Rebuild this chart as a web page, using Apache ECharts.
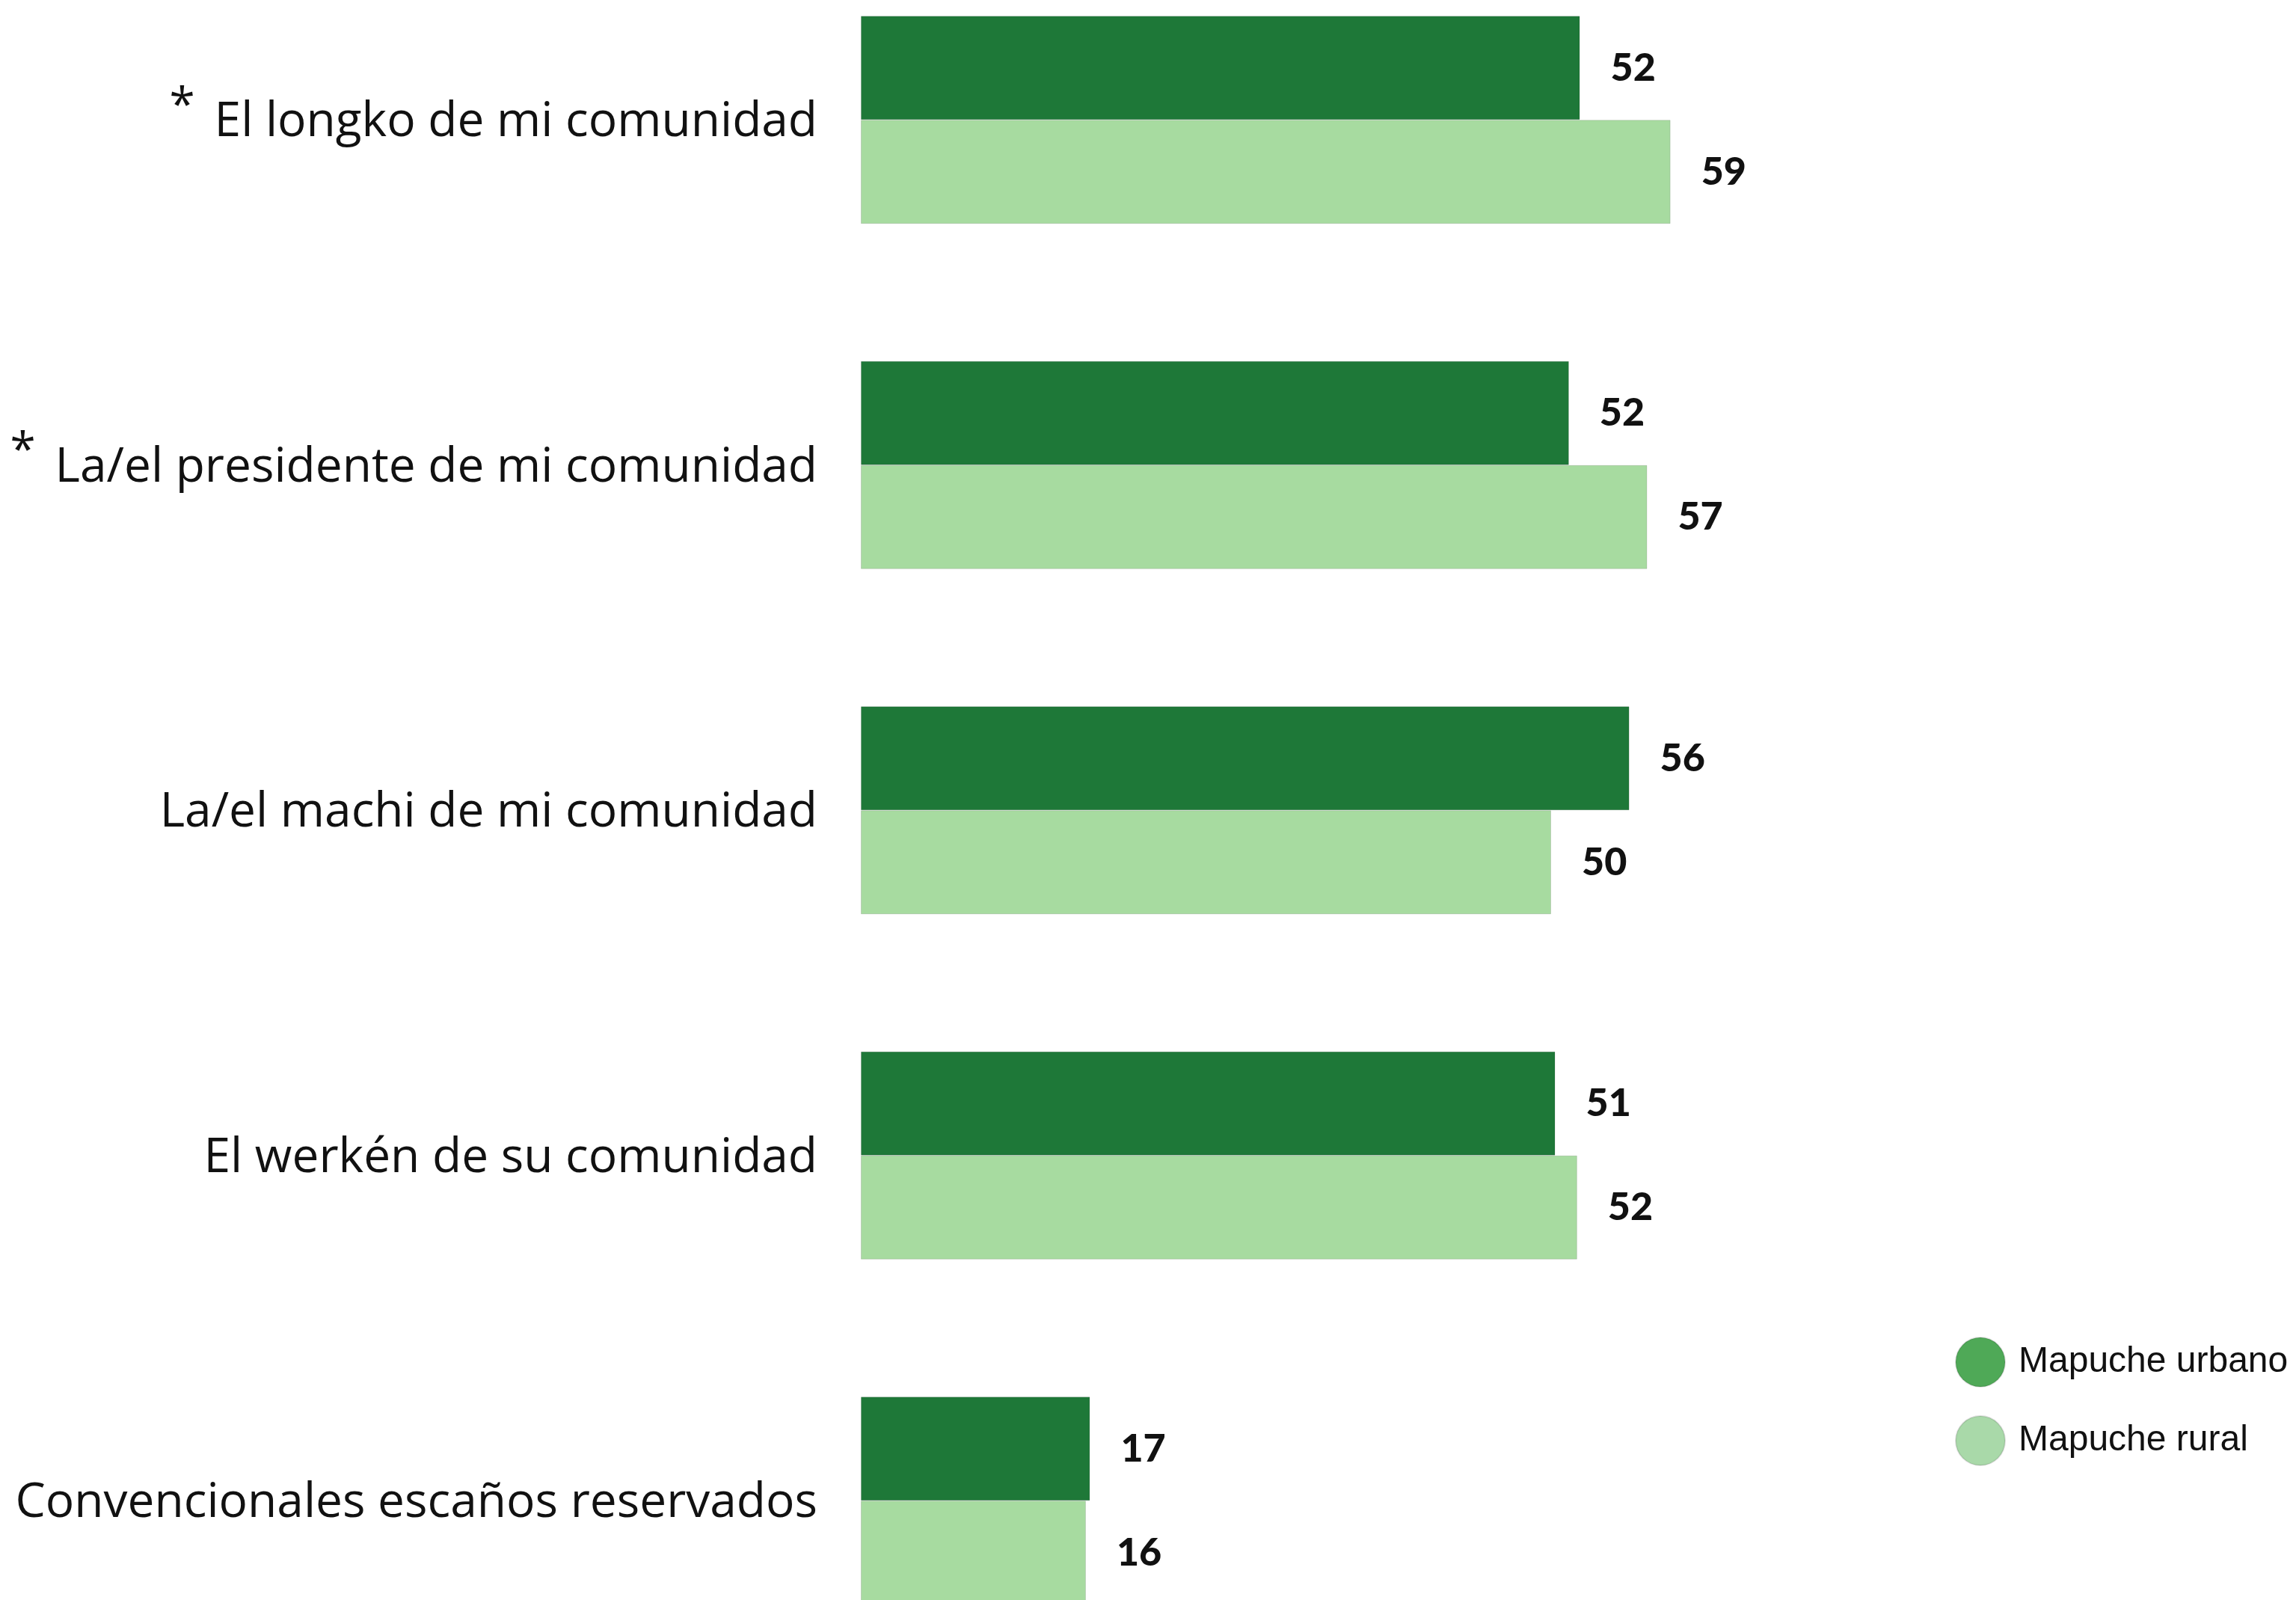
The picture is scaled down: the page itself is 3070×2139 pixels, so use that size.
<!DOCTYPE html>
<html>
<head>
<meta charset="utf-8">
<script src="https://cdn.jsdelivr.net/npm/echarts@6/dist/echarts.min.js"></script>
<style>
* {
    margin: 0;
    padding: 0;
}
body {
    background: #ffffff;
}
#chart {
    width: 3070px;
    height: 2139px;
}
</style>
</head>
<body>
<div id="chart"></div>
<script>
// categorias (de arriba hacia abajo)
const categories = [
    'El longko de mi comunidad',
    'La/el presidente de mi comunidad',
    'La/el machi de mi comunidad',
    'El werkén de su comunidad',
    'Convencionales escaños reservados'
];
// las que llevan asterisco
const starred = [true, true, false, false, false];

const seriesNames = ['Mapuche urbano', 'Mapuche rural'];
const urbano = [52.4, 51.6, 56.0, 50.6, 16.7];
const rural = [59.0, 57.3, 50.3, 52.2, 16.4];

const barColors = ['#1E7838', '#A7DBA0'];
const legendColors = ['#4FA957', '#A9D9A9'];

const chart = echarts.init(document.getElementById('chart'));

const labelStyle = {
    show: true,
    position: 'right',
    distance: 41,
    color: '#111111',
    fontFamily: 'Lato',
    fontWeight: 900,
    fontSize: 52,
    formatter: (p) => Math.round(p.value)
};

const option = {
    backgroundColor: '#ffffff',
    animation: false,
    legend: {
        orient: 'vertical',
        left: 2614,
        top: 1787,
        padding: 0,
        itemWidth: 66,
        itemHeight: 66,
        itemGap: 37,
        icon: 'circle',
        textStyle: {
            fontFamily: 'Liberation Sans',
            fontSize: 48,
            color: '#111111',
            padding: [0, 0, 0, 13]
        },
        data: seriesNames.map((n, i) => ({
            name: n,
            itemStyle: { color: legendColors[i] }
        }))
    },
    grid: {
        left: 1151,
        top: -70.5,
        width: 1835,
        height: 2307.5,
        outerBoundsMode: 'none'
    },
    xAxis: {
        type: 'value',
        min: 0,
        max: 100,
        show: false
    },
    yAxis: {
        type: 'category',
        inverse: true,
        data: categories,
        axisLine: { show: false },
        axisTick: { show: false },
        axisLabel: {
            margin: 58,
            formatter: (value, idx) => {
                if (starred[idx]) {
                    return '{ast|*}{t|' + value + '}';
                }
                return '{t|' + value + '}';
            },
            rich: {
                t: {
                    fontFamily: 'Open Sans',
                    fontSize: 64,
                    color: '#111111',
                    padding: [8, 0, 0, 0]
                },
                ast: {
                    fontFamily: 'Open Sans',
                    fontSize: 62,
                    color: '#111111',
                    padding: [0, 26, 34, 0]
                }
            }
        }
    },
    series: [
        {
            name: seriesNames[0],
            type: 'bar',
            data: urbano,
            barWidth: 139,
            barGap: '0%',
            itemStyle: {
                color: barColors[0],
                borderColor: 'rgba(0,0,0,0.12)',
                borderWidth: 1
            },
            label: labelStyle
        },
        {
            name: seriesNames[1],
            type: 'bar',
            data: rural,
            barWidth: 139,
            barGap: '0%',
            itemStyle: {
                color: barColors[1],
                borderColor: 'rgba(0,0,0,0.12)',
                borderWidth: 1
            },
            label: labelStyle
        }
    ]
};

chart.setOption(option);
</script>
</body>
</html>
